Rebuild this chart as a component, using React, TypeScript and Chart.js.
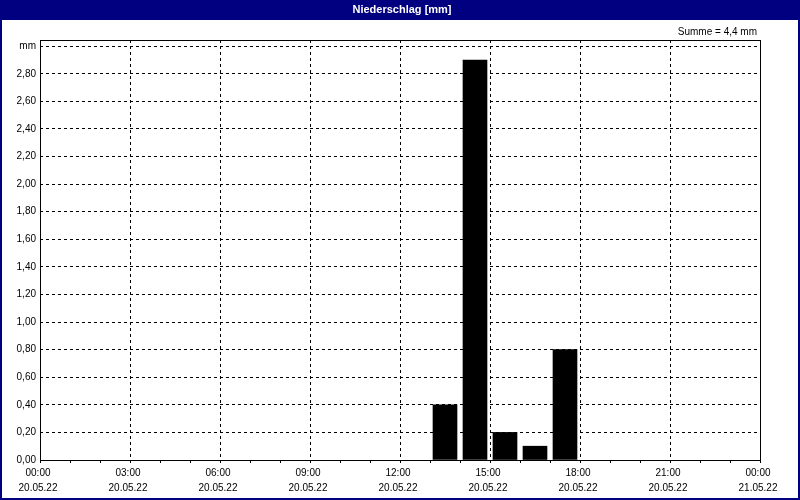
import React, { useEffect, useRef } from "react";
import { Chart, registerables } from "chart.js";

Chart.register(...registerables);

// ---- data ----
const chartTitle = "Niederschlag [mm]";
const sumLabel = "Summe = 4,4 mm";
const yUnitLabel = "mm";
const barHours = [13.5, 14.5, 15.5, 16.5, 17.5]; // hour centres (13-14h ... 17-18h)
const precipitation = [0.4, 2.9, 0.2, 0.1, 0.8];
const xTickTimes = ["00:00", "03:00", "06:00", "09:00", "12:00", "15:00", "18:00", "21:00", "00:00"];
const xTickDates = ["20.05.22", "20.05.22", "20.05.22", "20.05.22", "20.05.22", "20.05.22", "20.05.22", "20.05.22", "21.05.22"];
const yTickValues = [0, 0.2, 0.4, 0.6, 0.8, 1.0, 1.2, 1.4, 1.6, 1.8, 2.0, 2.2, 2.4, 2.6, 2.8, 3.0];
const yMax = 3.045;

const FONT = "'Liberation Sans', Arial, sans-serif";
const NAVY = "#000080";

const framePlugin = {
  id: "frame",
  beforeDraw(chart: any) {
    const { ctx, width, height } = chart;
    ctx.save();
    ctx.fillStyle = "#ffffff";
    ctx.fillRect(0, 0, width, height);
    ctx.fillStyle = NAVY;
    ctx.fillRect(0, 0, width, 20);
    ctx.fillRect(0, 0, 2, height);
    ctx.fillRect(width - 2, 0, 2, height);
    ctx.fillRect(0, height - 2, width, 2);
    ctx.fillStyle = "#ffffff";
    ctx.font = `bold 11px ${FONT}`;
    ctx.textAlign = "center";
    ctx.textBaseline = "middle";
    ctx.fillText(chartTitle, 402, 10);
    ctx.fillStyle = "#000000";
    ctx.font = `10px ${FONT}`;
    ctx.textAlign = "right";
    ctx.fillText(sumLabel, 757, 32);
    ctx.restore();
  },
  afterDatasetsDraw(chart: any) {
    const { ctx, chartArea } = chart;
    const l = Math.round(chartArea.left);
    const r = Math.round(chartArea.right);
    const t = Math.round(chartArea.top);
    const b = Math.round(chartArea.bottom);
    ctx.save();
    ctx.fillStyle = "#000000";
    ctx.fillRect(l, t, 1, b - t + 1);
    ctx.fillRect(r, t, 1, b - t + 1);
    ctx.fillRect(l, t, r - l + 1, 1);
    ctx.fillRect(l, b, r - l + 1, 1);
    ctx.restore();
  },
};

export default function App() {
  const ref = useRef<HTMLCanvasElement | null>(null);

  useEffect(() => {
    if (!ref.current) return;
    const chart = new Chart(ref.current, {
      type: "bar",
      data: {
        datasets: [
          {
            data: barHours.map((h, i) => ({ x: h, y: precipitation[i] })),
            backgroundColor: "#000000",
            borderWidth: 0,
            barThickness: 24,
          },
        ],
      },
      options: {
        animation: false,
        responsive: false,
        devicePixelRatio: 1,
        layout: { padding: { top: 40, right: 40, left: 0, bottom: 0 } },
        plugins: {
          legend: { display: false },
          tooltip: { enabled: false },
          title: { display: false },
        },
        scales: {
          x: {
            type: "linear",
            min: 0,
            max: 24,
            offset: false,
            afterFit: (s: any) => {
              s.height = 40;
            },
            afterBuildTicks: (s: any) => {
              const t = [];
              for (let h = 0; h <= 24; h++) t.push({ value: h });
              s.ticks = t;
            },
            ticks: {
              autoSkip: false,
              maxRotation: 0,
              minRotation: 0,
              padding: 2,
              labelOffset: -2,
              color: "#000000",
              font: { family: FONT, size: 10, lineHeight: 1.56 },
              callback: (v: any) => {
                const n = Number(v);
                if (n % 3 !== 0) return "";
                const i = n / 3;
                return [xTickTimes[i], xTickDates[i]];
              },
            },
            grid: {
              offset: false,
              drawOnChartArea: true,
              drawTicks: true,
              tickLength: 3,
              tickColor: "#000000",
              color: (c: any) => {
                const v = c.tick ? c.tick.value : 0;
                return v % 3 === 0 && v !== 0 && v !== 24 ? "#000000" : "rgba(0,0,0,0)";
              },
            },
            border: { display: false, dash: [3, 3] },
          },
          y: {
            type: "linear",
            min: 0,
            max: yMax,
            afterFit: (s: any) => {
              s.width = 40;
            },
            afterBuildTicks: (s: any) => {
              s.ticks = yTickValues.map((v) => ({ value: v }));
            },
            ticks: {
              padding: 4,
              color: "#000000",
              font: { family: FONT, size: 10 },
              callback: (v: any) => {
                const n = Number(v);
                if (Math.abs(n - 3) < 1e-6) return yUnitLabel;
                return n.toFixed(2).replace(".", ",");
              },
            },
            grid: {
              offset: false,
              drawTicks: false,
              color: (c: any) => (c.tick && c.tick.value > 0 ? "#000000" : "rgba(0,0,0,0)"),
            },
            border: { display: false, dash: [3, 3] },
          },
        },
      },
      plugins: [framePlugin],
    } as any);
    return () => chart.destroy();
  }, []);

  return (
    <div style={{ position: "fixed", left: 0, top: 0, width: 800, height: 500 }}>
      <canvas ref={ref} width={800} height={500} style={{ display: "block" }} />
    </div>
  );
}
